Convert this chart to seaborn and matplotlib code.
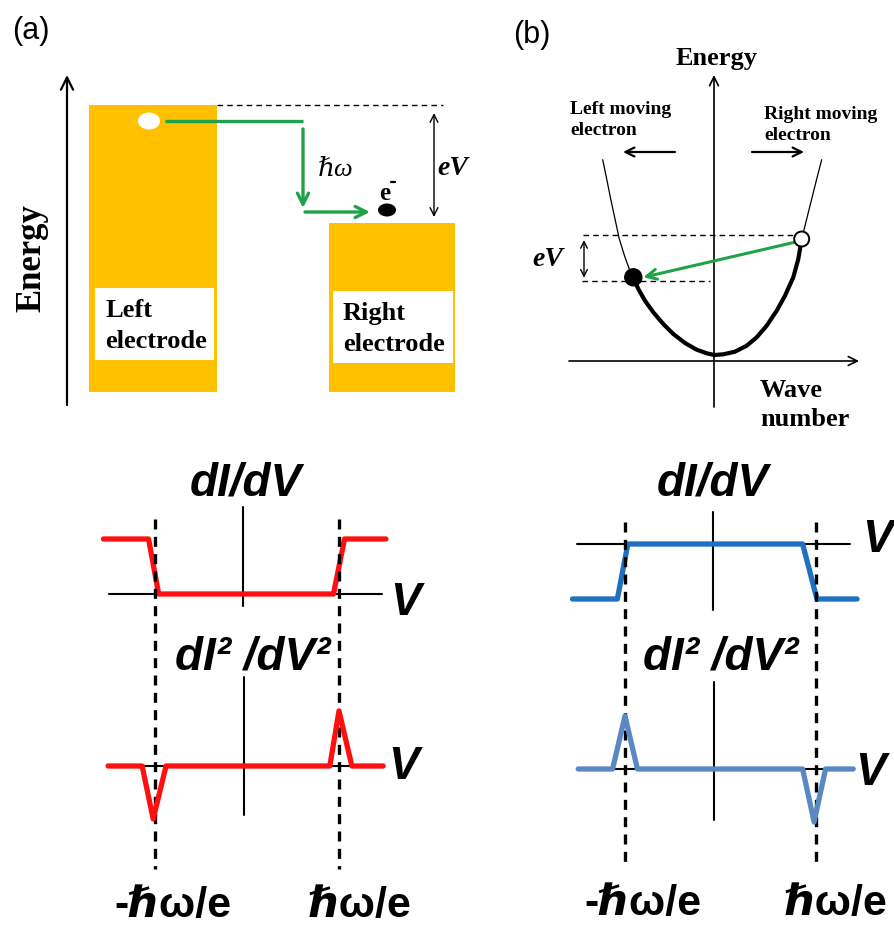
import numpy as np
import pandas as pd
import matplotlib
matplotlib.use("Agg")
import matplotlib.pyplot as plt
import seaborn as sns
from matplotlib.patches import Rectangle, Ellipse

sns.set_theme(style="white")
SANS = ["Liberation Sans", "DejaVu Sans"]
SERIF = ["Liberation Serif", "DejaVu Serif"]
plt.rcParams["font.family"] = SANS
plt.rcParams["text.color"] = "black"

# ---------------- data ----------------
# bottom (a): red curves, V in units of hbar*omega/e
red_didv_v = [-1.56, -1.07, -0.96, 0.94, 1.06, 1.51]
red_didv_g = [1, 1, 0, 0, 1, 1]
red_d2_v = [-1.51, -1.14, -1.02, -0.88, 0.90, 1.00, 1.14, 1.48]
red_d2_s = [0, 0, -1.0, 0, 0, 1.04, 0, 0]
# bottom (b): blue curves
blue_didv_v = [-1.55, -1.08, -0.97, 0.86, 1.01, 1.43]
blue_didv_g = [-1, -1, 0, 0, -1, -1]
blue_d2_v = [-1.49, -1.13, -1.00, -0.87, 0.86, 0.98, 1.10, 1.39]
blue_d2_s = [0, 0, 1.0, 0, 0, -1.0, 0, 0]
threshold_v = [-1.0, 1.0]
threshold_labels = ["-\u210f\u03c9/e", "\u210f\u03c9/e"]

# panel (b) top: band dispersion E(k)
band_thin_left_k = [-1.113, -1.073, -1.033, -0.990, -0.947, -0.890, -0.847, -0.807]
band_thin_left_e = [2.013, 1.820, 1.620, 1.420, 1.220, 1.037, 0.920, 0.837]
band_thick_k = [-0.807, -0.757, -0.690, -0.607, -0.507, -0.407, -0.290, -0.173, -0.073,
                0.003, 0.093, 0.210, 0.327, 0.427, 0.527, 0.627, 0.710, 0.793, 0.843, 0.877]
band_thick_e = [0.837, 0.720, 0.603, 0.487, 0.370, 0.270, 0.180, 0.113, 0.077,
                0.060, 0.067, 0.093, 0.153, 0.237, 0.353, 0.503, 0.653, 0.837, 1.020, 1.220]
band_thin_right_k = [0.877, 0.927, 0.977, 1.027, 1.077]
band_thin_right_e = [1.220, 1.420, 1.620, 1.820, 2.013]
initial_state = (0.877, 1.22)   # open circle (hole)
final_state = (-0.807, 0.837)   # filled electron
level_high, level_low = 1.26, 0.803

# ---------------- figure ----------------
W, H = 894, 929
fig = plt.figure(figsize=(W / 100, H / 100), dpi=100)
fig.patch.set_facecolor("white")
base = fig.add_axes([0, 0, 1, 1])
base.set_xlim(0, W)
base.set_ylim(H, 0)
base.axis("off")


def panel_axes(ox, oy, sx, sy):
    a = fig.add_axes([0, 0, 1, 1])
    a.set_xlim(-ox / sx, (W - ox) / sx)
    a.set_ylim(-(H - oy) / sy, oy / sy)
    a.axis("off")
    a.patch.set_alpha(0)
    return a


def line(a, x, y, **kw):
    sns.lineplot(x=x, y=y, ax=a, sort=False, estimator=None, **kw)


ORANGE = "#FFC000"
GREEN = "#1FA24A"
RED = "#FF1010"
BLUE1 = "#1F70BE"
BLUE2 = "#5A88C3"

# ---------------- panel (a) top: energy diagram ----------------
base.text(31, 31, "(a)", fontsize=22, ha="center", va="center", family=SANS)
base.annotate("", xy=(67, 76), xytext=(67, 406),
              arrowprops=dict(arrowstyle="->", lw=1.6, color="black",
                              mutation_scale=22, shrinkA=0, shrinkB=0))
base.text(32, 258, "Energy", rotation=90, fontsize=25, fontweight="bold",
          ha="center", va="center", family=SERIF)
base.add_patch(Rectangle((89, 106), 128, 287, color=ORANGE, lw=0))
base.add_patch(Rectangle((95, 289), 119, 72, color="white", lw=0))
base.text(105, 326, "Left\nelectrode", fontsize=19, fontweight="bold",
          ha="left", va="center", family=SERIF, linespacing=1.4)
base.add_patch(Rectangle((329, 224), 126, 169, color=ORANGE, lw=0))
base.add_patch(Rectangle((333, 292), 120, 72, color="white", lw=0))
base.text(343, 329, "Right\nelectrode", fontsize=19, fontweight="bold",
          ha="left", va="center", family=SERIF, linespacing=1.4)
base.plot([217, 443], [106, 106], color="black", lw=1.0, ls=(0, (4, 3)))
base.add_patch(Ellipse((149, 122), 22, 17, color="white", lw=0))
base.plot([165, 303], [122, 122], color=GREEN, lw=2.4, solid_capstyle="butt")
base.annotate("", xy=(303, 209), xytext=(303, 130),
              arrowprops=dict(arrowstyle="->", lw=2.4, color=GREEN,
                              mutation_scale=20, shrinkA=0, shrinkB=0))
base.annotate("", xy=(370, 213), xytext=(305, 213),
              arrowprops=dict(arrowstyle="->", lw=2.4, color=GREEN,
                              mutation_scale=20, shrinkA=0, shrinkB=0))
base.text(336, 170, "\u210f\u03c9", fontsize=19, style="italic",
          ha="center", va="center", family=SERIF)
base.text(385, 193, "e", fontsize=18, fontweight="bold", ha="center",
          va="center", family=SERIF)
base.plot([390.5, 394.5], [182.5, 182.5], color="black", lw=1.6)
base.add_patch(Ellipse((387, 211), 18, 13, color="black", lw=0))
base.annotate("", xy=(434, 114), xytext=(434, 218),
              arrowprops=dict(arrowstyle="<->", lw=1.0, color="black",
                              mutation_scale=14, shrinkA=0, shrinkB=0))
base.text(453, 168, "eV", fontsize=20, fontweight="bold", style="italic",
          ha="center", va="center", family=SERIF)

# ---------------- panel (b) top: band diagram ----------------
base.text(532, 35, "(b)", fontsize=22, ha="center", va="center", family=SANS)
bb = panel_axes(714, 362, 100, 100)
bb.annotate("", xy=(0, 2.86), xytext=(0, -0.46),
            arrowprops=dict(arrowstyle="->", lw=1.2, color="black",
                            mutation_scale=16, shrinkA=0, shrinkB=0))
bb.annotate("", xy=(1.45, 0), xytext=(-1.45, 0),
            arrowprops=dict(arrowstyle="->", lw=1.2, color="black",
                            mutation_scale=16, shrinkA=0, shrinkB=0))
line(bb, band_thin_left_k, band_thin_left_e, color="black", linewidth=0.9)
line(bb, band_thin_right_k, band_thin_right_e, color="black", linewidth=0.9)
line(bb, band_thick_k, band_thick_e, color="black", linewidth=3.0)
bb.plot([-1.31, 0.85], [level_high, level_high], color="black", lw=1.0,
        ls=(0, (4, 3)))
bb.plot([-1.32, -0.04], [level_low, level_low], color="black", lw=1.0,
        ls=(0, (4, 3)))
bb.annotate("", xy=(-1.30, level_high - 0.05), xytext=(-1.30, level_low + 0.03),
            arrowprops=dict(arrowstyle="<->", lw=1.0, color="black",
                            mutation_scale=12, shrinkA=0, shrinkB=0))
bb.text(-1.66, 1.02, "eV", fontsize=20, fontweight="bold", style="italic",
        ha="center", va="center", family=SERIF)
bb.annotate("", xy=(final_state[0] + 0.1, final_state[1]),
            xytext=(initial_state[0] - 0.08, initial_state[1] - 0.035),
            arrowprops=dict(arrowstyle="->", lw=2.2, color=GREEN,
                            mutation_scale=18, shrinkA=0, shrinkB=0))
bb.add_patch(Ellipse(initial_state, 0.15, 0.15, facecolor="white",
                     edgecolor="black", lw=1.4, zorder=5))
bb.add_patch(Ellipse(final_state, 0.17, 0.17, color="black", zorder=5))
bb.annotate("", xy=(-0.91, 2.09), xytext=(-0.39, 2.09),
            arrowprops=dict(arrowstyle="->", lw=1.6, color="black",
                            mutation_scale=16, shrinkA=0, shrinkB=0))
bb.annotate("", xy=(0.90, 2.09), xytext=(0.38, 2.09),
            arrowprops=dict(arrowstyle="->", lw=1.6, color="black",
                            mutation_scale=16, shrinkA=0, shrinkB=0))
base.text(717, 58, "Energy", fontsize=19, fontweight="bold", ha="center",
          va="center", family=SERIF)
base.text(570, 120, "Left moving\nelectron", fontsize=14, fontweight="bold",
          ha="left", va="center", family=SERIF, linespacing=1.3)
base.text(764, 125, "Right moving\nelectron", fontsize=14, fontweight="bold",
          ha="left", va="center", family=SERIF, linespacing=1.3)
base.text(760, 405, "Wave\nnumber", fontsize=19, fontweight="bold",
          ha="left", va="center", family=SERIF, linespacing=1.3)


# ---------------- bottom panels ----------------
def bottom_panel(ox, oy1, oy2, sx, v1, g1, v2, s2, color1, color2,
                 ax1_h, ax1_v, ax2_h, ax2_v, dash_top, dash_bot):
    a1 = panel_axes(ox, oy1, sx, 55)
    a2 = panel_axes(ox, oy2, sx, 53)
    a1.plot(ax1_h, [0, 0], color="black", lw=1.5, zorder=1)
    a1.plot([ax1_v[0], ax1_v[0]], ax1_v[1:], color="black", lw=1.5, zorder=1)
    a2.plot(ax2_h, [0, 0], color="black", lw=1.5, zorder=1)
    a2.plot([ax2_v[0], ax2_v[0]], ax2_v[1:], color="black", lw=1.5, zorder=1)
    line(a1, v1, g1, color=color1, linewidth=3.8, zorder=2)
    line(a2, v2, s2, color=color2, linewidth=3.8, zorder=2)
    for v in threshold_v:
        a1.plot([v, v], [dash_top, dash_bot], color="black", lw=2.4,
                ls=(0, (3.0, 2.2)), zorder=3)
    return a1, a2


bottom_panel(247, 595, 767, 92, red_didv_v, red_didv_g, red_d2_v, red_d2_s,
             RED, RED, [-1.50, 1.47], [-0.04, 1.58, -0.22],
             [-1.51, 1.48], [-0.03, 1.68, -0.92], 1.36, -5.0)
bottom_panel(720.5, 545, 770, 95.5, blue_didv_v, blue_didv_g, blue_d2_v,
             blue_d2_s, BLUE1, BLUE2, [-1.50, 1.36], [-0.08, 0.58, -1.2],
             [-1.49, 1.39], [-0.068, 1.64, -0.96], 0.40, -5.87)

BI = dict(fontsize=33, fontweight="bold", style="italic", ha="center",
          va="center", family=SANS)
base.text(246, 483, "dI/dV", **BI)
base.text(713, 483, "dI/dV", **BI)
base.text(253, 657, "dI\u00b2 /dV\u00b2", **BI)
base.text(721, 657, "dI\u00b2 /dV\u00b2", **BI)
base.text(405, 603, "V", **BI)
base.text(403, 767, "V", **BI)
base.text(877, 540, "V", **BI)
base.text(870, 773, "V", **BI)
LB = dict(fontsize=31, fontweight="bold", ha="center", va="center", family=SANS)
base.text(173, 906, threshold_labels[0], **LB)
base.text(360, 906, threshold_labels[1], **LB)
base.text(643, 904, threshold_labels[0], **LB)
base.text(836, 904, threshold_labels[1], **LB)

fig.savefig("out.png", dpi=100, facecolor="white")
